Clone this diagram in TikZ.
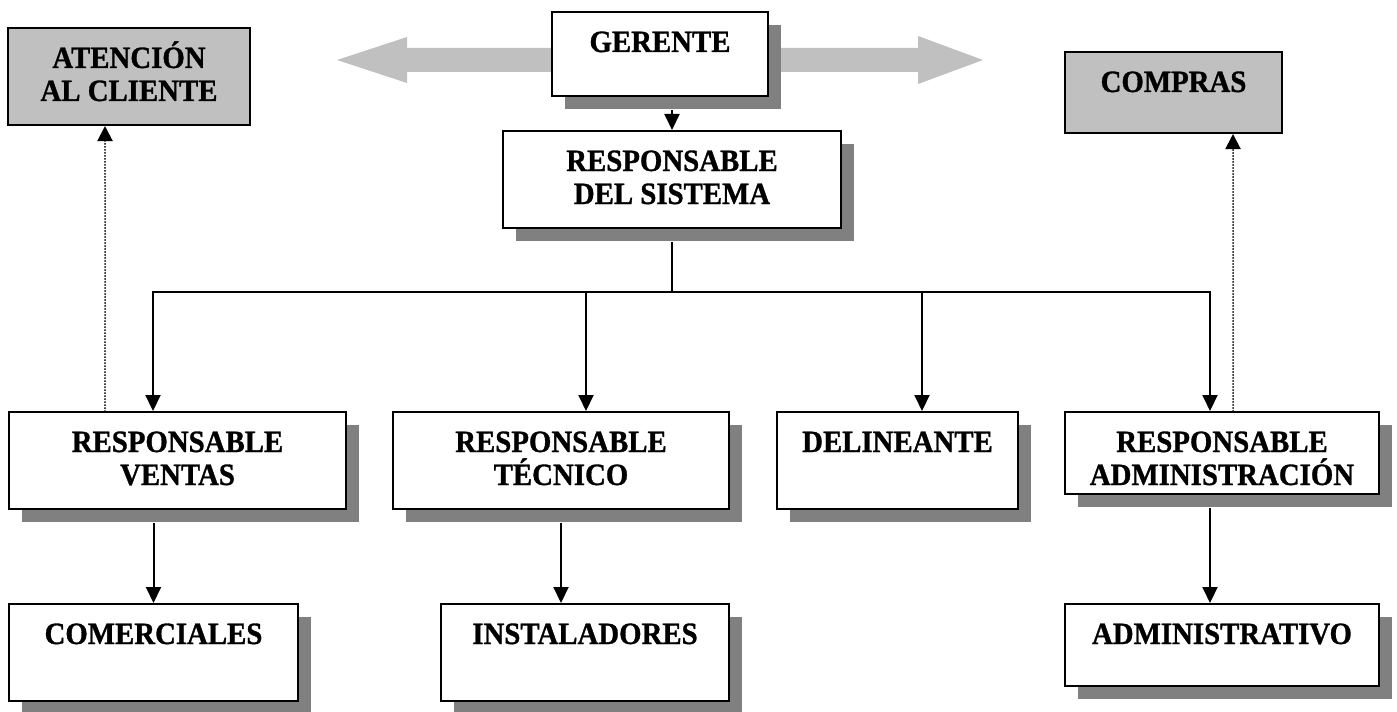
\documentclass[tikz,border=0pt]{standalone}
\usepackage{fontspec}
\setmainfont{Liberation Serif}
\newfontfamily\boxfont{Liberation Serif Bold}[FakeStretch=0.93,FakeBold=1]
\usetikzlibrary{shadows,arrows.meta,calc}
\definecolor{lightg}{HTML}{C0C0C0}
\definecolor{shadowg}{HTML}{808080}
\newcommand\boxtext[3]{\parbox[c][#2bp][t]{#1bp}{\centering\rule{0pt}{40bp}#3}}
\begin{document}
\begin{tikzpicture}[x=1bp,y=-1bp,
  box/.style={draw=black, line width=2bp, inner sep=0pt, fill=white,
    font=\boxfont\fontsize{31bp}{33bp}\selectfont},
  shbox/.style={box, drop shadow={shadow xshift=13bp, shadow yshift=-13bp, fill=shadowg, opacity=1}},
  graybox/.style={box, fill=lightg},
  conn/.style={line width=2bp},
  arr/.style={conn, -{Triangle[length=16bp,width=15bp]}},
  dotarr/.style={line width=2bp, line cap=round, dash pattern=on 0bp off 3bp, -{Triangle[length=15bp,width=15bp]}},
  bigarrow/.style={fill=lightg, draw=none}]
\useasboundingbox (0,0) rectangle (1397,711);
% big double arrow behind GERENTE
\fill[bigarrow] (337,60) -- (407,37) -- (407,48) -- (918,48) -- (918,36) -- (983,60)
  -- (918,84) -- (918,72) -- (407,72) -- (407,83) -- cycle;
% boxes
\node[graybox] (att) at (129,76.5) {\boxtext{242}{97}{ATENCIÓN\\AL CLIENTE}};
\node[graybox] (cmp) at (1173.5,92.5) {\boxtext{217}{81}{COMPRAS}};
\node[shbox] (g) at (660,54) {\boxtext{216}{84}{GERENTE}};
\node[shbox] (s) at (672,179.5) {\boxtext{338}{97}{RESPONSABLE\\DEL SISTEMA}};
\node[shbox] (v) at (177.5,460.5) {\boxtext{337}{97}{RESPONSABLE\\VENTAS}};
\node[shbox] (t) at (561,460.5) {\boxtext{336}{97}{RESPONSABLE\\TÉCNICO}};
\node[shbox] (d) at (897.5,460.5) {\boxtext{241}{97}{DELINEANTE}};
\node[shbox] (ra) at (1222,453) {\boxtext{314}{82}{RESPONSABLE\\ADMINISTRACIÓN}};
\node[shbox] (com) at (153.5,652.5) {\boxtext{289}{97}{COMERCIALES}};
\node[shbox] (ins) at (585,652.5) {\boxtext{288}{97}{INSTALADORES}};
\node[shbox] (adm) at (1222,645) {\boxtext{314}{82}{ADMINISTRATIVO}};
% bus coordinates
\coordinate (b1) at (153,292);
\coordinate (b2) at (586,292);
\coordinate (b3) at (922,292);
\coordinate (b4) at (1210,292);
\coordinate (bs) at (s.south |- b1);
\coordinate (d1) at (105,300);
\coordinate (d2) at (1233,300);
% connectors
\draw[arr] ($(s.north |- g.south)+(0,13)$) -- (s.north);
\draw[conn] ($(s.south)+(0,13)$) -- (bs);
\draw[arr] (bs) -| (b1 |- v.north);
\draw[arr] (bs) -| (b4 |- ra.north);
\draw[arr] (b2) -- (b2 |- t.north);
\draw[arr] (b3) -- (b3 |- d.north);
\draw[arr] ($(com.north |- v.south)+(0,13)$) -- (com.north);
\draw[arr] ($(t.south)+(0,13)$) -- (t.south |- ins.north);
\draw[arr] ($(b4 |- ra.south)+(0,13)$) -- (b4 |- adm.north);
\draw[dotarr] (d1 |- v.north) -- (d1 |- att.south);
\draw[dotarr] (d2 |- ra.north) -- (d2 |- cmp.south);
\end{tikzpicture}
\end{document}
